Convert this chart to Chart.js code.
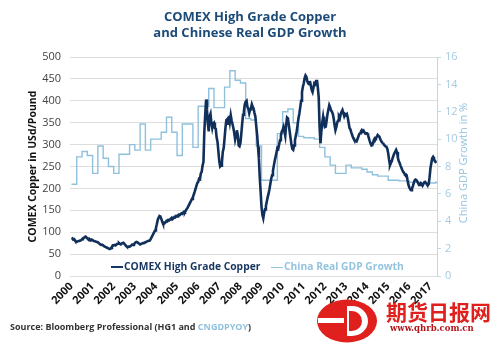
<!DOCTYPE html>
<html>
<head>
<meta charset="utf-8">
<script src="https://cdn.jsdelivr.net/npm/chart.js@4.4.0/dist/chart.umd.min.js"></script>
<style>
  html, body { margin: 0; padding: 0; background: #fff; }
  #wrap { position: relative; width: 500px; height: 347px; overflow: hidden; font-family: "Open Sans", sans-serif; }
  #chart { position: absolute; left: 0; top: 0; }
  .title { position: absolute; left: 0; top: 8px; width: 500px; text-align: center; color: #1d4b77; font-weight: 700; font-size: 13px; line-height: 16px; }
  .legend { position: absolute; top: 259px; font-size: 10.3px; font-weight: 700; white-space: nowrap; }
  .legend i { display: inline-block; width: 12px; height: 0; vertical-align: middle; margin-right: 1px; border-top: 2px solid; }
  .copper { left: 111px; color: #17365f; }
  .gdp { left: 271px; color: #94c4df; }
  .gdp i { border-top-width: 1.5px; }
  .ytitle-r { position: absolute; left: 383px; top: 156px; width: 160px; text-align: center; transform: rotate(-90deg); color: #94c4df; font-size: 11px; line-height: 14px; white-space: nowrap; }
  .source { position: absolute; left: 10px; top: 320px; font-size: 9px; font-weight: 700; color: #333; white-space: nowrap; }
  .source span { color: #8fc1dd; }
  .mark { position: absolute; left: 316px; top: 298px; }
  .mark-cn { position: absolute; left: 386px; top: 298px; font-family: "Noto Sans CJK SC", sans-serif; font-size: 21px; font-weight: 700; color: #e0201c; line-height: 26px; }
  .mark-url { position: absolute; left: 390px; top: 323px; font-family: "DejaVu Serif", serif; font-size: 8.5px; font-weight: 700; color: #b3161a; }
</style>
</head>
<body>
<div id="wrap">
  <canvas id="chart" width="500" height="347"></canvas>
  <div class="title">COMEX High Grade Copper<br>and Chinese Real GDP Growth</div>
  <div class="legend copper"><i></i>COMEX High Grade Copper</div>
  <div class="legend gdp"><i></i>China Real GDP Growth</div>
  <div class="ytitle-r">China GDP Growth in %</div>
  <div class="source">Source: Bloomberg Professional (HG1 and <span>CNGDPYOY</span>)</div>
  <svg class="mark" width="64" height="46" viewBox="0 0 64 46">
    <ellipse cx="31" cy="23" rx="30" ry="21.5" fill="#e0201c"/>
    <rect x="2" y="20" width="26" height="5" fill="#fff"/>
    <path d="M31 8 L36 8 A16 15 0 0 1 36 38 L31 38 Z" fill="#fff"/>
    <path d="M33 13 L36 13 A10 10 0 0 1 36 33 L33 33 Z" fill="#e0201c"/>
  </svg>
  <div class="mark-cn">期货日报网</div>
  <div class="mark-url">www.qhrb.com.cn</div>
</div>
<script>
// year ticks along the bottom axis
const years = [2000, 2001, 2002, 2003, 2004, 2005, 2006, 2007, 2008, 2009,
               2010, 2011, 2012, 2013, 2014, 2015, 2016, 2017];

// China real GDP growth, % y/y, one value per quarter starting 2000
const gdpStart = 2000;
const gdpGrowth = [
  6.7, 8.7, 9.1, 8.8,     // 2000
  7.5, 9.5, 8.6, 8.0,     // 2001
  7.5, 8.9, 8.9, 9.6,     // 2002
  9.2, 11.1, 9.2, 10.0,   // 2003
  10.0, 10.5, 11.6, 10.5, // 2004
  8.8, 11.1, 11.1, 9.4,   // 2005
  12.4, 12.4, 13.7, 12.3, // 2006
  12.3, 13.8, 15.0, 14.3, // 2007
  14.1, 11.5, 11.4, 9.5,  // 2008
  7.0, 7.0, 7.0, 10.4,    // 2009
  12.0, 12.2, 11.2, 10.2, // 2010
  10.1, 10.1, 10.0, 9.4,  // 2011
  8.7, 8.1, 7.5, 7.5,     // 2012
  8.1, 7.9, 7.9, 7.8,     // 2013
  7.6, 7.4, 7.3, 7.3,     // 2014
  7.0, 7.0, 6.95, 6.95,   // 2015
  6.85, 6.85, 6.8, 6.8,   // 2016
  6.8, 6.85               // 2017
];

// COMEX high grade copper, US cents per pound, two readings per month from 2000
const copperStart = 2000;
const copperPrice = [
  87, 86, 83, 84, 81, 79, 78, 79, 80, 80, 81, 82, 84, 86, 87, 89, 90, 88, 86, 84, 82, 83, 81, 83,
  82, 80, 80, 79, 78, 78, 77, 75, 73, 72, 71, 71, 70, 68, 67, 66, 65, 64, 63, 62, 62, 64, 67, 70,
  70, 71, 70, 72, 73, 74, 75, 73, 72, 74, 75, 76, 74, 71, 69, 67, 66, 67, 67, 68, 70, 72, 71, 72,
  75, 77, 78, 77, 75, 74, 72, 72, 74, 75, 75, 76, 77, 78, 79, 80, 80, 81, 84, 88, 92, 96, 100, 104,
  110, 118, 128, 133, 137, 136, 131, 125, 120, 119, 121, 123, 126, 125, 128, 127, 129, 131, 133, 130, 132, 135, 134, 137,
  136, 138, 140, 139, 141, 143, 142, 145, 147, 146, 150, 153, 156, 160, 164, 168, 172, 176, 180, 186, 192, 199, 206, 212,
  215, 222, 221, 234, 238, 252, 260, 330, 368, 403, 380, 348, 330, 364, 370, 350, 338, 348, 350, 338, 336, 316, 306, 284,
  262, 250, 252, 260, 284, 292, 314, 338, 356, 358, 348, 366, 352, 367, 355, 347, 338, 327, 312, 322, 333, 322, 298, 296,
  303, 324, 348, 368, 376, 392, 398, 400, 386, 382, 372, 380, 383, 392, 386, 382, 372, 364, 342, 322, 295, 268, 225, 192,
  158, 140, 132, 145, 152, 160, 170, 180, 188, 198, 210, 222, 230, 240, 252, 263, 272, 282, 292, 290, 300, 310, 320, 330,
  333, 340, 330, 320, 345, 362, 360, 345, 330, 315, 300, 290, 288, 298, 310, 320, 330, 345, 360, 371, 385, 400, 420, 432,
  440, 452, 458, 455, 445, 440, 438, 445, 435, 425, 420, 430, 440, 438, 445, 448, 430, 408, 340, 303, 330, 350, 364, 350,
  340, 341, 355, 370, 380, 390, 385, 378, 375, 370, 360, 345, 333, 340, 350, 355, 364, 360, 370, 375, 379, 372, 365, 370,
  368, 370, 362, 350, 338, 335, 328, 322, 316, 312, 310, 308, 307, 312, 318, 324, 326, 330, 333, 330, 332, 328, 325, 326,
  326, 322, 315, 308, 302, 298, 299, 306, 312, 315, 314, 318, 322, 320, 318, 312, 308, 305, 304, 300, 298, 296, 295, 290,
  280, 265, 253, 258, 262, 269, 275, 280, 284, 288, 283, 270, 262, 258, 252, 247, 242, 238, 235, 232, 232, 230, 218, 208,
  202, 198, 196, 200, 205, 212, 218, 220, 219, 216, 212, 208, 210, 212, 209, 206, 210, 214, 215, 212, 209, 207, 210, 225,
  246, 258, 269, 272, 268, 262, 261, 262
];

const xMin = 1999.93;
const xMax = 2017.31;

const navy = '#102f5a';
const lightBlue = '#8fc1dd';
const font = '"Open Sans", sans-serif';

const copperPoints = copperPrice.map((v, i) => ({ x: copperStart + i / 24, y: v }));
const gdpPoints = gdpGrowth.map((v, i) => ({ x: gdpStart + i / 4, y: v }));
gdpPoints.push({ x: xMax, y: gdpGrowth[gdpGrowth.length - 1] });

new Chart(document.getElementById('chart'), {
  type: 'line',
  data: {
    datasets: [
      {
        label: 'COMEX High Grade Copper',
        data: copperPoints,
        yAxisID: 'y',
        borderColor: navy,
        borderWidth: 2.6,
        pointRadius: 0,
        tension: 0
      },
      {
        label: 'China Real GDP Growth',
        data: gdpPoints,
        yAxisID: 'y1',
        borderColor: lightBlue,
        borderWidth: 1.4,
        pointRadius: 0,
        stepped: true
      }
    ]
  },
  options: {
    responsive: false,
    animation: false,
    devicePixelRatio: 1,
    layout: { padding: { top: 57, left: 0, right: 0, bottom: 0 } },
    plugins: { legend: { display: false }, tooltip: { enabled: false } },
    scales: {
      x: {
        type: 'linear',
        min: xMin,
        max: xMax,
        afterBuildTicks: (scale) => { scale.ticks = years.map(v => ({ value: v })); },
        afterFit: (scale) => { scale.height = 71; },
        grid: { display: false, drawTicks: false },
        border: { display: false },
        ticks: {
          autoSkip: false,
          minRotation: 45,
          maxRotation: 45,
          padding: 4,
          color: '#111',
          font: { family: font, size: 11, weight: 'bold' },
          callback: (v) => String(v)
        }
      },
      y: {
        position: 'left',
        min: 0,
        max: 500,
        afterFit: (scale) => { scale.width = 70; },
        grid: { color: '#dddddd', drawTicks: false },
        border: { display: false },
        ticks: { stepSize: 50, padding: 9, color: '#444', font: { family: font, size: 11 } },
        title: {
          display: true,
          text: 'COMEX Copper in USd/Pound',
          color: '#111',
          font: { family: font, size: 10.5, weight: 'bold' },
          padding: { top: 27, bottom: 0 }
        }
      },
      y1: {
        position: 'right',
        min: 0,
        max: 16,
        afterFit: (scale) => { scale.width = 63; },
        grid: { drawOnChartArea: false, color: '#bcd9ea', tickLength: 4 },
        border: { display: true, color: '#bcd9ea' },
        ticks: { stepSize: 2, padding: 4, color: '#a6cbe2', font: { family: font, size: 11 } }
      }
    }
  }
});
</script>
</body>
</html>
